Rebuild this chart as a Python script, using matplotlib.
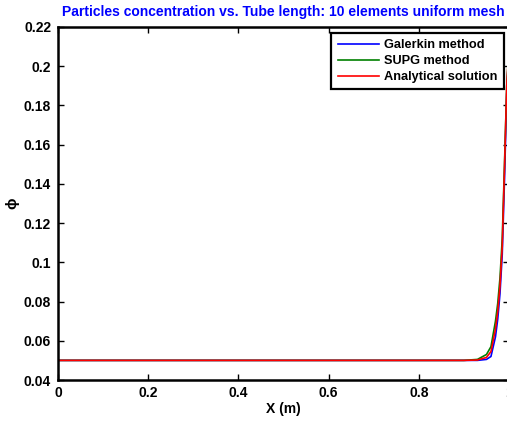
import numpy as np
import matplotlib.pyplot as plt
import matplotlib
from matplotlib.ticker import FormatStrFormatter

matplotlib.rcParams['font.family'] = ['Liberation Sans', 'DejaVu Sans']
matplotlib.rcParams['font.weight'] = 'bold'
matplotlib.rcParams['font.size'] = 10

# values
x_pts = [0.0, 0.90, 0.93, 0.95, 0.96, 0.97, 0.975, 0.98, 0.985, 0.99, 0.995, 1.0]
phi_galerkin = [0.05, 0.05, 0.05, 0.0505, 0.052, 0.062, 0.071, 0.084, 0.104, 0.142, 0.186, 0.21]
phi_supg = [0.05, 0.05, 0.0505, 0.053, 0.057, 0.070, 0.079, 0.092, 0.112, 0.150, 0.190, 0.21]
phi_exact = [0.05, 0.05, 0.0502, 0.0515, 0.0545, 0.066, 0.075, 0.088, 0.108, 0.148, 0.19, 0.21]

xticks = [0, 0.2, 0.4, 0.6, 0.8, 1.0]
yticks = [0.04, 0.06, 0.08, 0.1, 0.12, 0.14, 0.16, 0.18, 0.2, 0.22]

fig = plt.figure(figsize=(5.07, 4.21), dpi=100)
ax = fig.add_axes([58/507, 41/421, 451/507, 353/421])

ax.plot(x_pts, phi_galerkin, color=(0, 0, 1), lw=1.2, label='Galerkin method')
ax.plot(x_pts, phi_supg, color=(0, 0.5, 0), lw=1.2, label='SUPG method')
ax.plot(x_pts, phi_exact, color=(1, 0, 0), lw=1.2, label='Analytical solution')

ax.set_xlim(0, 1)
ax.set_ylim(0.04, 0.22)
ax.set_xticks(xticks)
ax.set_yticks(yticks)
ax.xaxis.set_major_formatter(FormatStrFormatter('%g'))
ax.yaxis.set_major_formatter(FormatStrFormatter('%g'))
ax.tick_params(direction='in', length=4, width=1, top=True, right=True, labelsize=10)
ax.tick_params(axis='x', pad=4)
ax.tick_params(axis='y', pad=5)
for s in ax.spines.values():
    s.set_linewidth(1.8)

ax.set_xlabel('X (m)', fontweight='bold', fontsize=10, labelpad=2)
ax.set_ylabel('ϕ', fontweight='bold', fontsize=11, labelpad=3)
ax.set_title('Particles concentration vs. Tube length: 10 elements uniform mesh',
             color='blue', fontweight='bold', fontsize=10, pad=8)

leg = ax.legend(loc='upper right', bbox_to_anchor=(0.988, 0.983), fancybox=False,
                edgecolor='black', framealpha=1, handlelength=3.2, handletextpad=0.4,
                labelspacing=0.3, borderpad=0.5, borderaxespad=0,
                prop={'weight': 'bold', 'size': 9.2})
leg.get_frame().set_linewidth(1.6)

plt.savefig('out.png', dpi=100)
